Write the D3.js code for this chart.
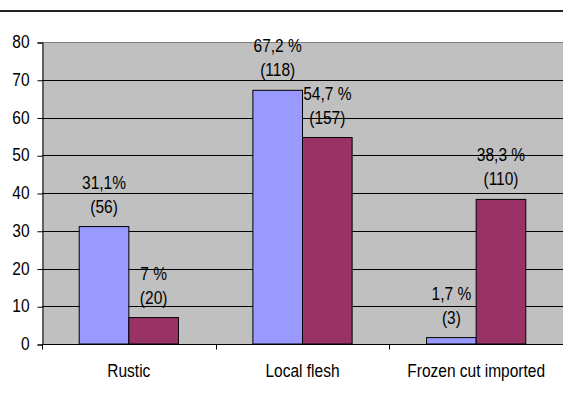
<!DOCTYPE html>
<html>
<head>
<meta charset="utf-8">
<script src="https://cdn.jsdelivr.net/npm/d3@7"></script>
<style>
  html, body { margin: 0; padding: 0; background: #fff; }
  svg { display: block; }
  text { font-family: Arial, "Liberation Sans", sans-serif; fill: #000; }
</style>
</head>
<body>
<svg id="chart" width="563" height="398"></svg>
<script>
// Meat origin categories and the two series
const categories = ["Rustic", "Local flesh", "Frozen cut imported"];
const seriesA = [31.1, 67.2, 1.7];
const seriesB = [7, 54.7, 38.3];
const pctLabelsA = ["31,1%", "67,2 %", "1,7 %"];
const pctLabelsB = ["7 %", "54,7 %", "38,3 %"];
const countsA = [56, 118, 3];
const countsB = [20, 157, 110];
const yTicks = [0, 10, 20, 30, 40, 50, 60, 70, 80];
const colors = ["#9999FF", "#993366"];

const svg = d3.select("#chart");
const plotLeft = 42, plotRight = 563, plotTop = 42, plotBottom = 344;
const fontSize = "15.5px";
const stretch = 1.14; // glyphs are slightly taller than wide

// header rule
svg.append("line")
  .attr("x1", 0).attr("x2", 563).attr("y1", 11).attr("y2", 11)
  .attr("stroke", "#222").attr("stroke-width", 2);

const x = d3.scaleBand().domain(categories).range([plotLeft, plotRight]).padding(0);
const y = d3.scaleLinear().domain([0, 80]).range([plotBottom, plotTop]);

// plot background
svg.append("rect")
  .attr("x", plotLeft).attr("y", plotTop)
  .attr("width", plotRight - plotLeft).attr("height", plotBottom - plotTop)
  .attr("fill", "#C0C0C0");

// gridlines
svg.append("g").selectAll("line")
  .data(yTicks.filter(d => d > 0))
  .join("line")
  .attr("x1", plotLeft).attr("x2", plotRight)
  .attr("y1", d => Math.round(y(d)) + 0.5).attr("y2", d => Math.round(y(d)) + 0.5)
  .attr("stroke", d => d === 80 ? "#808080" : "#000")
  .attr("stroke-width", 1);

// y axis
const yAxis = d3.axisLeft(y).tickValues(yTicks).tickSize(5).tickPadding(8);
const gy = svg.append("g")
  .attr("transform", `translate(${plotLeft + 0.5},0.5)`)
  .call(yAxis);
gy.selectAll("text")
  .style("font-size", fontSize)
  .attr("font-family", "Arial, 'Liberation Sans', sans-serif")
  .attr("y", 0).attr("dy", null)
  .attr("transform", `translate(0,5) scale(1,${stretch})`);
gy.selectAll("path, line").attr("stroke", "#000");

// places a slightly stretched text label centred at (cx, baseline)
function label(g, cx, base, str) {
  g.append("text")
    .attr("transform", `translate(${cx},${base}) scale(1,${stretch})`)
    .attr("text-anchor", "middle")
    .style("font-size", fontSize)
    .text(str);
}

// x axis with ticks at category boundaries
const gx = svg.append("g").attr("transform", `translate(0,${plotBottom + 0.5})`);
gx.append("line").attr("x1", plotLeft).attr("x2", plotRight).attr("stroke", "#000");
gx.selectAll("line.tick")
  .data(categories)
  .join("line")
  .attr("class", "tick")
  .attr("x1", d => Math.round(x(d)) + 0.5).attr("x2", d => Math.round(x(d)) + 0.5)
  .attr("y1", 0).attr("y2", 5)
  .attr("stroke", "#000");
categories.forEach(c => label(gx, x(c) + x.bandwidth() / 2, 32, c));

// bars
const barW = x.bandwidth() / 3.5;
const series = [
  { values: seriesA, pct: pctLabelsA, counts: countsA, color: colors[0], offset: -barW },
  { values: seriesB, pct: pctLabelsB, counts: countsB, color: colors[1], offset: 0 }
];

series.forEach(s => {
  const bx = i => x(categories[i]) + x.bandwidth() / 2 + s.offset;
  svg.append("g").selectAll("rect")
    .data(s.values)
    .join("rect")
    .attr("x", (d, i) => bx(i))
    .attr("y", d => y(d))
    .attr("width", barW)
    .attr("height", d => y(0) - y(d))
    .attr("fill", s.color)
    .attr("stroke", "#000")
    .attr("stroke-width", 1);

  const lg = svg.append("g");
  s.values.forEach((v, i) => {
    const cx = bx(i) + barW / 2;
    label(lg, cx, y(v) - 44 + 6, s.pct[i]);
    label(lg, cx, y(v) - 20 + 6, `(${s.counts[i]})`);
  });
});
</script>
</body>
</html>
